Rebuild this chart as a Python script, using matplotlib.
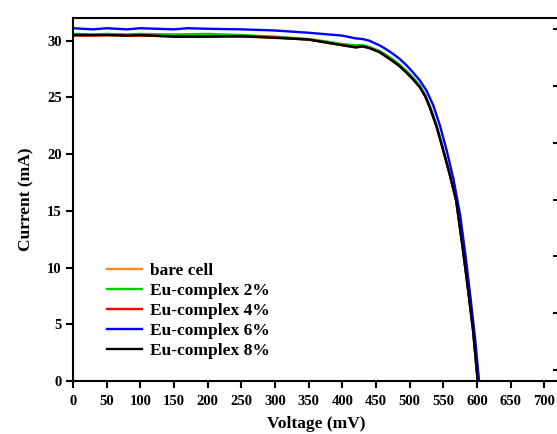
import matplotlib.pyplot as plt

plt.rcParams['font.family'] = ['Liberation Serif', 'DejaVu Serif']
plt.rcParams['font.weight'] = 'bold'

# Voltage (mV) points
volt = [0, 30, 50, 80, 100, 150, 200, 250, 300, 350, 380, 400, 420, 430, 440, 455,
        465, 475, 485, 495, 505, 515, 523, 530, 540, 549, 559, 569, 579, 587, 594, 601]

bare = [30.5, 30.5, 30.5, 30.5, 30.45, 30.4, 30.4, 30.4, 30.3, 30.1, 29.85, 29.65,
        29.5, 29.55, 29.4, 29.05, 28.65, 28.25, 27.8, 27.25, 26.65, 25.95, 25.15,
        24.15, 22.45, 20.55, 18.35, 15.95, 11.65, 7.95, 4.55, 0]
eu2 = [30.6, 30.55, 30.6, 30.55, 30.6, 30.55, 30.6, 30.5, 30.35, 30.15, 29.9, 29.7,
       29.6, 29.6, 29.45, 29.1, 28.75, 28.35, 27.9, 27.35, 26.75, 26.05, 25.25,
       24.25, 22.55, 20.6, 18.4, 16.0, 11.65, 7.95, 4.55, 0]
eu4 = [30.45, 30.45, 30.5, 30.45, 30.45, 30.4, 30.4, 30.35, 30.3, 30.1, 29.8, 29.6,
       29.45, 29.5, 29.35, 29.0, 28.6, 28.2, 27.75, 27.2, 26.6, 25.9, 25.1,
       24.1, 22.4, 20.5, 18.3, 15.9, 11.55, 7.85, 4.5, 0]
eu8 = [30.5, 30.5, 30.5, 30.45, 30.5, 30.35, 30.35, 30.4, 30.25, 30.1, 29.8, 29.6,
       29.4, 29.5, 29.35, 29.0, 28.6, 28.2, 27.75, 27.2, 26.6, 25.9, 25.1,
       24.1, 22.4, 20.5, 18.3, 15.9, 11.6, 7.9, 4.5, 0]

volt6 = [0, 30, 50, 80, 100, 150, 170, 200, 250, 300, 350, 380, 400, 420, 430, 440,
         455, 465, 475, 485, 495, 505, 515, 525, 535, 545, 555, 565, 575, 583, 590,
         597, 603]
eu6 = [31.1, 31.0, 31.1, 31.0, 31.1, 31.0, 31.1, 31.05, 31.0, 30.9, 30.7, 30.55,
       30.45, 30.2, 30.15, 30.0, 29.6, 29.25, 28.85, 28.4, 27.85, 27.2, 26.5, 25.6,
       24.3, 22.5, 20.3, 17.8, 14.6, 11.0, 7.5, 3.8, 0]

labels = ['bare cell', 'Eu-complex 2%', 'Eu-complex 4%', 'Eu-complex 6%', 'Eu-complex 8%']
colors = ['#ff8c1a', '#00cc00', '#ff0000', '#0000ff', '#000000']
xs = [volt, volt, volt, volt6, volt]
series = [bare, eu2, eu4, eu6, eu8]

fig = plt.figure(figsize=(5.57, 4.34), dpi=100)
ax = fig.add_axes([0.131, 0.122, 0.873, 0.8365])

for x, vals, lab, col in zip(xs, series, labels, colors):
    ax.plot(x, vals, color=col, lw=1.7, label=lab)

ax.set_xlim(0, 722)
ax.set_ylim(0, 32)
ax.set_xticks(range(0, 701, 50))
ax.set_yticks(range(0, 31, 5))
ax.tick_params(direction='out', length=5, width=1.5, labelsize=10.5, pad=3)
ax.tick_params(axis='x', pad=5)
for s in ax.spines.values():
    s.set_linewidth(1.5)
ax.spines['right'].set_visible(False)

ax.set_xlabel('Voltage (mV)', fontsize=12.5, fontweight='bold', labelpad=6)
ax.set_ylabel('Current (mA)', fontsize=12.5, fontweight='bold', labelpad=9)

# right-hand axis, cut off at the figure edge
ax2 = ax.twinx()
ax2.set_ylim(-1, 31)
ax2.set_yticks(range(0, 31, 5))
ax2.tick_params(direction='in', length=4, width=1.5, labelright=False)
for s in ax2.spines.values():
    s.set_visible(False)

leg = ax.legend(loc='lower left', bbox_to_anchor=(0.07, 0.06), frameon=False,
                prop={'size': 12.5, 'weight': 'bold'}, handlelength=2.0,
                handletextpad=0.45, labelspacing=0.22, borderpad=0,
                borderaxespad=0)

fig.savefig('out.png', dpi=100)
